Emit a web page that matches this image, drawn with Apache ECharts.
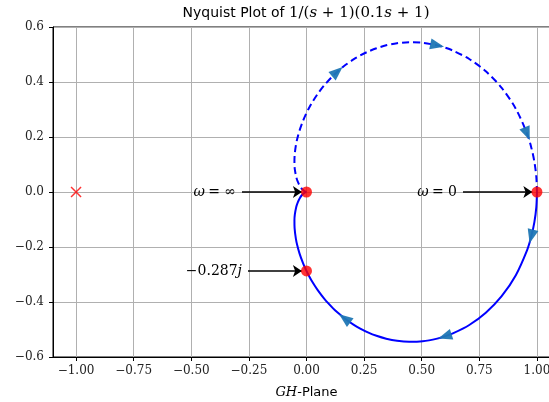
<!DOCTYPE html>
<html>
<head>
<meta charset="utf-8">
<script src="https://cdn.jsdelivr.net/npm/echarts@6/dist/echarts.min.js"></script>
<style>
  html, body { margin: 0; padding: 0; background: #ffffff; }
  #chart { width: 549px; height: 402px; }
</style>
</head>
<body>
<div id="chart"></div>
<script>
// G(jw) = 1/((jw+1)(0.1jw+1)), positive frequencies, w = 0 -> infinity
const lowerRe = [1.00000, 0.99723, 0.98901, 0.97557, 0.95731, 0.90836, 0.84693, 0.77806, 0.70628, 0.63514,
  0.60062, 0.56710, 0.50365, 0.44554, 0.39298, 0.34584, 0.30379, 0.26640, 0.23322, 0.20377,
  0.16569, 0.13378, 0.11538, 0.07752, 0.04868, 0.02647, 0.00917, -0.00440, -0.01513, -0.03043,
  -0.04011, -0.04615, -0.05167, -0.05235, -0.05066, -0.04455, -0.03787, -0.02927, -0.01945, -0.00988,
  -0.00383, -0.00100, 0];
const lowerIm = [0, -0.05486, -0.10890, -0.16133, -0.21145, -0.30248, -0.37870, -0.43890, -0.48355, -0.51426,
  -0.52504, -0.53317, -0.54257, -0.54455, -0.54097, -0.53330, -0.52277, -0.51027, -0.49652, -0.48204,
  -0.45976, -0.43757, -0.42308, -0.38858, -0.35700, -0.32844, -0.30275, -0.27965, -0.25886, -0.22312,
  -0.19371, -0.16923, -0.13116, -0.10336, -0.08255, -0.05446, -0.03731, -0.02246, -0.01097, -0.00366,
  -0.00085, -0.00011, 0];

// negative frequencies, w = -infinity -> 0 (mirror branch)
const upperRe = [0, -0.00100, -0.00383, -0.00988, -0.01945, -0.02927, -0.03787, -0.04455, -0.05066, -0.05235,
  -0.05167, -0.04615, -0.04011, -0.03043, -0.01513, -0.00440, 0.00917, 0.02647, 0.04868, 0.07752,
  0.11538, 0.13378, 0.16569, 0.20377, 0.23322, 0.26640, 0.30379, 0.34584, 0.39298, 0.44554,
  0.50365, 0.56710, 0.60062, 0.63514, 0.70628, 0.77806, 0.84693, 0.90836, 0.95731, 0.97557,
  0.98901, 0.99723, 1.00000];
const upperIm = [0, 0.00011, 0.00085, 0.00366, 0.01097, 0.02246, 0.03731, 0.05446, 0.08255, 0.10336,
  0.13116, 0.16923, 0.19371, 0.22312, 0.25886, 0.27965, 0.30275, 0.32844, 0.35700, 0.38858,
  0.42308, 0.43757, 0.45976, 0.48204, 0.49652, 0.51027, 0.52277, 0.53330, 0.54097, 0.54455,
  0.54257, 0.53317, 0.52504, 0.51426, 0.48355, 0.43890, 0.37870, 0.30248, 0.21145, 0.16133,
  0.10890, 0.05486, 0];

// sample indices where direction arrows sit on each branch
const lowerArrowIdx = [3, 10, 20];
const upperArrowIdx = [21, 31, 38];

// highlighted points and the -1 point
const keyPoints = [[0, 0], [1, 0], [0, -0.287]];
const criticalPoint = [[-1, 0]];

// annotation arrows: label, tail, head
const annotations = [
  { label: '{i|ω} {r|= ∞}', from: [-0.28, 0], to: [-0.02, 0] },
  { label: '{i|ω} {r|= 0}', from: [0.679, 0], to: [0.98, 0] },
  { label: '{r|−0.287}{i|j}', from: [-0.254, -0.287], to: [-0.02, -0.287] }
];

const xTicks = [-1, -0.75, -0.5, -0.25, 0, 0.25, 0.5, 0.75, 1];
const yTicks = [-0.6, -0.4, -0.2, 0, 0.2, 0.4, 0.6];

const SERIF = '"DejaVu Serif", serif';
const SANS = '"DejaVu Sans", sans-serif';
const fmt = d => v => (v < 0 ? '−' : '') + Math.abs(v).toFixed(d);

const toPairs = (xs, ys) => xs.map((x, i) => [x, ys[i]]);
const lowerData = toPairs(lowerRe, lowerIm);
const upperData = toPairs(upperRe, upperIm);

const chart = echarts.init(document.getElementById('chart'), null, { renderer: 'canvas' });

const axisCommon = {
  type: 'value',
  axisLine: { show: true, onZero: false, lineStyle: { color: '#000', width: 1 } },
  axisTick: { show: true, inside: false, length: 4, lineStyle: { color: '#000', width: 1 } },
  splitLine: { show: true, lineStyle: { color: '#b0b0b0', width: 1 } }
};

chart.setOption({
  animation: false,
  backgroundColor: '#ffffff',
  title: {
    text: '{s|Nyquist Plot of }{m|1/(}{mi|s}{m| + 1)(0.1}{mi|s}{m| + 1)}',
    left: 301,
    top: 1,
    textAlign: 'center',
    textStyle: {
      fontWeight: 'normal',
      rich: {
        s: { fontFamily: SANS, fontSize: 14, fontWeight: 'normal', color: '#000' },
        m: { fontFamily: SERIF, fontSize: 15, fontWeight: 'normal', color: '#000' },
        mi: { fontFamily: SERIF, fontSize: 15, fontWeight: 'normal', fontStyle: 'italic', color: '#000' }
      }
    }
  },
  grid: {
    left: 53, right: -11, top: 27, bottom: 45,
    outerBoundsMode: 'none',
    containLabel: false,
    show: true, borderColor: '#000', borderWidth: 1, backgroundColor: 'transparent'
  },
  xAxis: Object.assign({}, axisCommon, {
    min: -1.1, max: 1.1,
    axisTick: Object.assign({}, axisCommon.axisTick, { customValues: xTicks }),
    axisLabel: {
      customValues: xTicks, formatter: fmt(2), margin: 8,
      fontFamily: SERIF, fontSize: 12, color: '#222'
    },
    name: '{i|GH}{s|-Plane}',
    nameLocation: 'middle',
    nameGap: 29,
    nameTextStyle: {
      rich: {
        i: { fontFamily: SERIF, fontStyle: 'italic', fontSize: 13, color: '#000' },
        s: { fontFamily: SANS, fontSize: 13, color: '#000' }
      }
    }
  }),
  yAxis: Object.assign({}, axisCommon, {
    min: -0.6, max: 0.6,
    axisTick: Object.assign({}, axisCommon.axisTick, { customValues: yTicks }),
    axisLabel: {
      customValues: yTicks, formatter: fmt(1), margin: 9,
      fontFamily: SERIF, fontSize: 12, color: '#222'
    }
  }),
  series: [
    {
      name: 'negative frequencies',
      type: 'line',
      data: upperData,
      showSymbol: false,
      smooth: 0.3,
      lineStyle: { color: '#0000ff', width: 2, type: [7, 4] },
      z: 2
    },
    {
      name: 'positive frequencies',
      type: 'line',
      data: lowerData,
      showSymbol: false,
      smooth: 0.3,
      lineStyle: { color: '#0000ff', width: 2 },
      z: 2
    },
    {
      name: 'direction',
      type: 'scatter',
      data: [],
      symbol: 'triangle',
      symbolSize: [11, 14],
      itemStyle: { color: '#1f77b4', opacity: 0.95 },
      z: 5
    },
    {
      name: 'key points',
      type: 'scatter',
      data: keyPoints,
      symbol: 'circle',
      symbolSize: 11,
      itemStyle: { color: '#ff0000' },
      z: 7,
      markLine: {
        silent: true,
        symbol: ['none', 'arrow'],
        symbolSize: 9,
        lineStyle: { color: '#000', width: 1.5, type: 'solid' },
        itemStyle: { color: '#000' },
        label: {
          show: true,
          position: 'start',
          distance: 6,
          rich: {
            i: { fontFamily: SERIF, fontStyle: 'italic', fontSize: 14, color: '#000' },
            r: { fontFamily: SERIF, fontSize: 14, color: '#000' }
          }
        },
        z: 6,
        data: annotations.map(a => [
          { coord: a.from, label: { formatter: a.label } },
          { coord: a.to }
        ])
      }
    },
    {
      name: 'critical point',
      type: 'scatter',
      data: criticalPoint,
      symbol: 'path://M0,0L10,10M10,0L0,10',
      symbolSize: 10,
      itemStyle: { color: 'none', borderColor: '#ff0000', borderWidth: 1.5 },
      z: 7
    }
  ]
});

// orient each direction triangle along the local tangent of its branch
function arrowItems(data, idxs) {
  return idxs.map(i => {
    const p1 = chart.convertToPixel({ gridIndex: 0 }, data[i - 1]);
    const p2 = chart.convertToPixel({ gridIndex: 0 }, data[i + 1]);
    const ang = Math.atan2(-(p2[1] - p1[1]), p2[0] - p1[0]) * 180 / Math.PI;
    return { value: data[i], symbolRotate: ang - 90 };
  });
}

chart.setOption({
  series: [{}, {}, { data: arrowItems(lowerData, lowerArrowIdx).concat(arrowItems(upperData, upperArrowIdx)) }]
});
</script>
</body>
</html>
